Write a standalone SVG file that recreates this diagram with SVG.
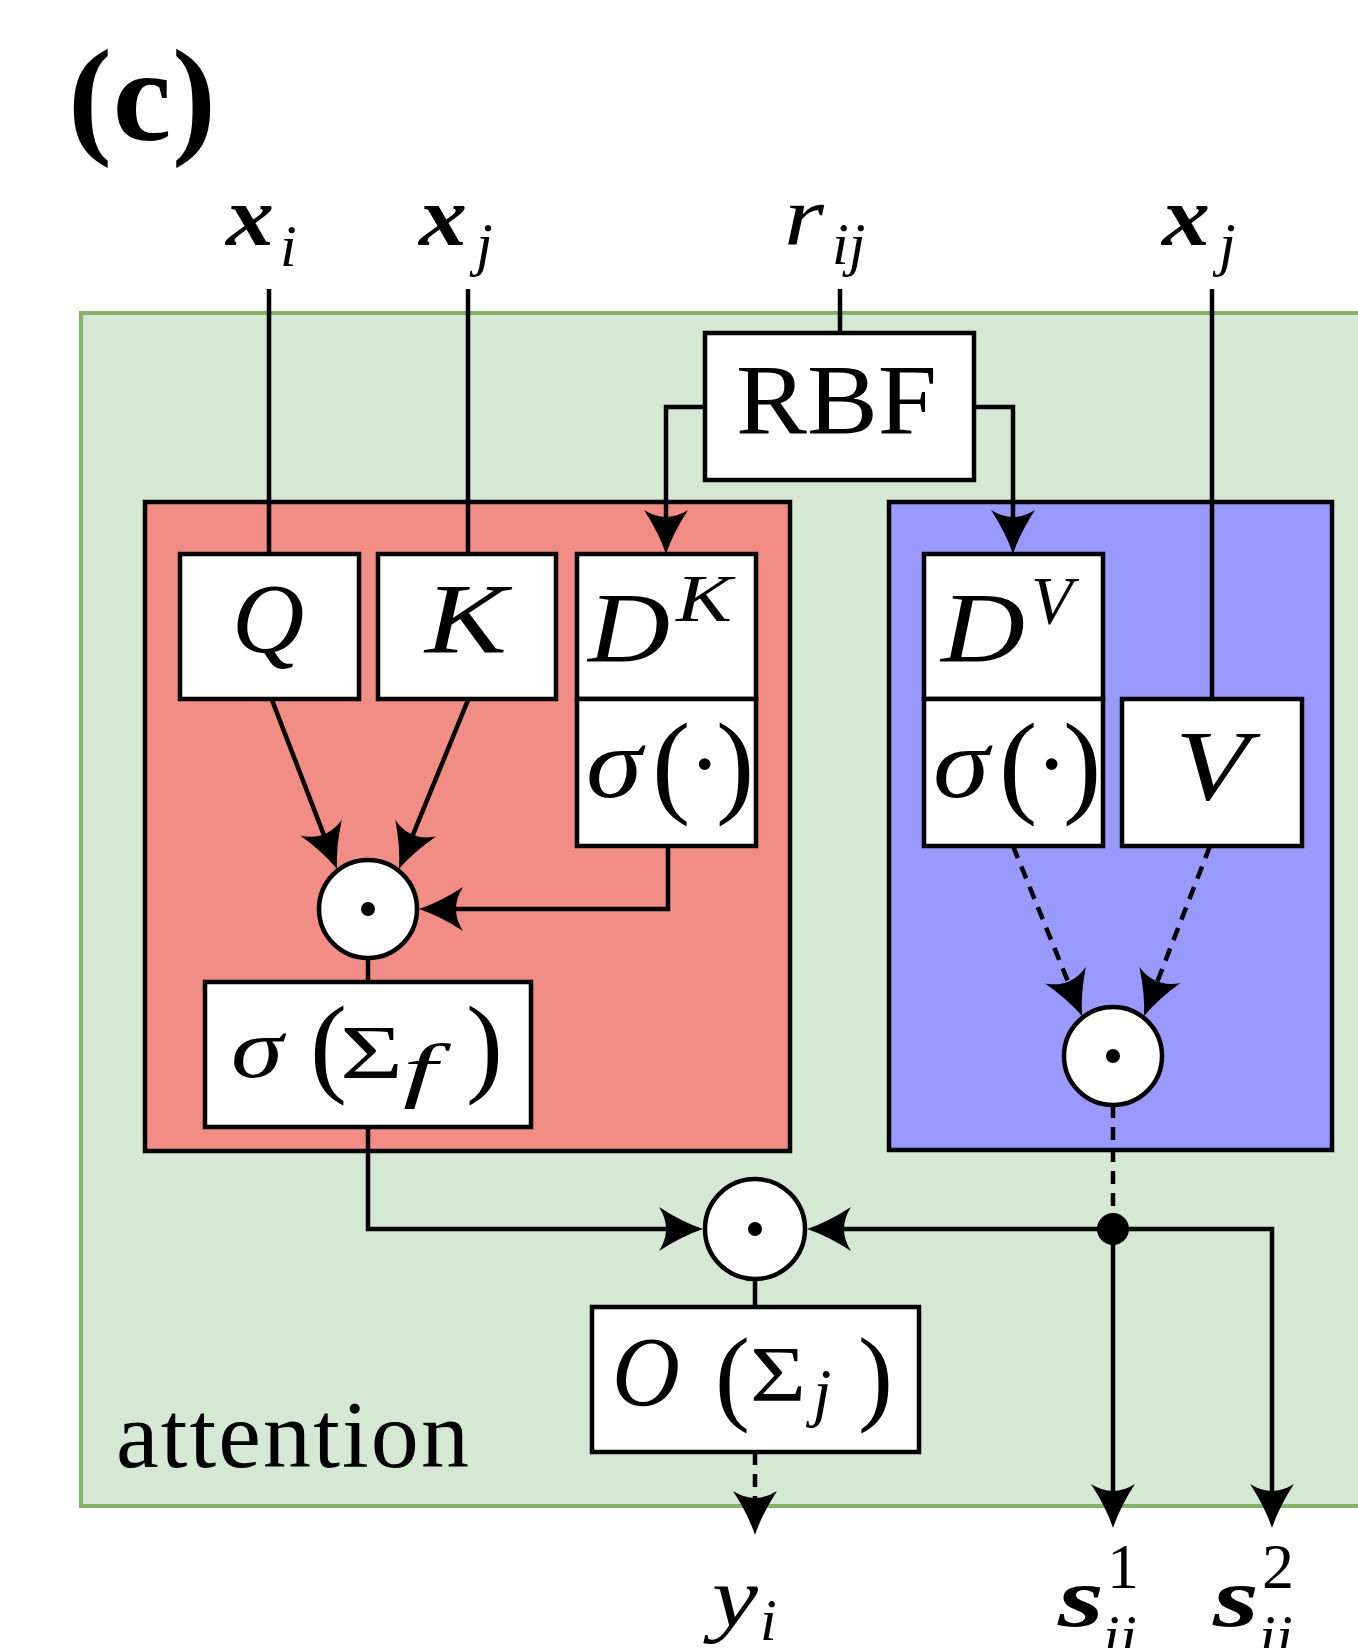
<svg xmlns="http://www.w3.org/2000/svg" width="1358" height="1648" viewBox="0 0 1358 1648">
<style>
text{font-family:"Liberation Serif","Times New Roman",serif;fill:#000}
.it{font-style:italic}
.bi{font-style:italic;font-weight:bold}
.up{font-style:normal}
.box{fill:#fff;stroke:#000;stroke-width:4.5}
.op{fill:#fff;stroke:#000;stroke-width:4.5}
.ln{fill:none;stroke:#000;stroke-width:4.5}
.ds{stroke-dasharray:13 9}
.ar{marker-end:url(#ah)}
</style>
<defs>
<marker id="ah" viewBox="-46 -24 48 48" refX="-8" refY="0" markerWidth="48" markerHeight="48" markerUnits="userSpaceOnUse" orient="auto">
<path d="M0,0 Q-21,-7 -44,-22 Q-30,0 -44,22 Q-21,7 0,0 Z" fill="#000"/>
</marker>
</defs>
<rect width="1358" height="1648" fill="#fff"/>
<text id="panel-label" x="68" y="140" font-size="132" font-weight="bold" textLength="148">(c)</text>

<g id="attention">
<rect x="81" y="313" width="1300" height="1193" fill="#d5e8d4" stroke="#82b366" stroke-width="4"/>
<text x="116" y="1467" font-size="96" textLength="353">attention</text>
</g>
<g id="key-branch"><rect x="145" y="502" width="645" height="649" fill="#f28d86" stroke="#000" stroke-width="4.5"/></g>
<g id="value-branch"><rect x="889" y="502" width="443" height="648" fill="#9999ff" stroke="#000" stroke-width="4.5"/></g>

<g id="inputs">
<text font-size="84"><tspan class="bi" x="226" y="245" textLength="48" lengthAdjust="spacingAndGlyphs">x</tspan><tspan class="it" x="280" y="266" font-size="60">i</tspan></text>
<text font-size="84"><tspan class="bi" x="419" y="245" textLength="48" lengthAdjust="spacingAndGlyphs">x</tspan><tspan class="it" x="476" y="264" font-size="60">j</tspan></text>
<text font-size="84"><tspan class="it" x="784" y="245" textLength="40" lengthAdjust="spacingAndGlyphs">r</tspan><tspan class="it" x="832" y="264" font-size="60">ij</tspan></text>
<text font-size="84"><tspan class="bi" x="1162" y="245" textLength="48" lengthAdjust="spacingAndGlyphs">x</tspan><tspan class="it" x="1219" y="264" font-size="60">j</tspan></text>
</g>

<g id="connectors">
<path class="ln" d="M269,289 V554"/>
<path class="ln" d="M468,289 V554"/>
<path class="ln" d="M840,289 V333"/>
<path class="ln ar" d="M705,407 H666 V546"/>
<path class="ln ar" d="M974,407 H1013 V546"/>
<path class="ln" d="M1212,289 V699"/>
<path class="ln ar" d="M272,700 L334.1,861.5"/>
<path class="ln ar" d="M468,700 L402,861.6"/>
<path class="ln ar" d="M668,846 V909 H427"/>
<path class="ln" d="M368,958 V982"/>
<path class="ln ar" d="M368,1127 V1229 H695"/>
<path class="ln ds ar" d="M1013,846 L1079,1008.6"/>
<path class="ln ds ar" d="M1210,846 L1146.9,1008.5"/>
<path class="ln ds" d="M1113,1105 V1229"/>
<path class="ln ar" d="M1113,1229 H815"/>
<path class="ln ar" d="M1113,1229 V1520"/>
<path class="ln ar" d="M1113,1229 H1272 V1520"/>
<path class="ln" d="M755,1279 V1307"/>
<path class="ln ds ar" d="M755,1452 V1527"/>
<circle cx="1113" cy="1229" r="16" fill="#000"/>
</g>

<g id="rbf">
<rect class="box" x="705" y="333" width="269" height="147"/>
<text x="736" y="433" font-size="100" textLength="201" lengthAdjust="spacingAndGlyphs">RBF</text>
</g>
<g id="Q">
<rect class="box" x="180" y="554" width="179" height="145"/>
<text class="it" x="268" y="652" font-size="100" text-anchor="middle">Q</text>
</g>
<g id="K">
<rect class="box" x="378" y="554" width="178" height="145"/>
<text class="it" x="466" y="652" font-size="100" text-anchor="middle" textLength="82" lengthAdjust="spacingAndGlyphs">K</text>
</g>
<g id="DK">
<rect class="box" x="577" y="554" width="179" height="145"/>
<text class="it" font-size="100"><tspan x="588" y="661" textLength="82" lengthAdjust="spacingAndGlyphs">D</tspan><tspan x="676" y="621" font-size="68" textLength="56" lengthAdjust="spacingAndGlyphs">K</tspan></text>
</g>
<g id="sigmaK">
<rect class="box" x="577" y="699" width="179" height="147"/>
<text font-size="100"><tspan class="it" x="586" y="797" textLength="56" lengthAdjust="spacingAndGlyphs">σ</tspan><tspan x="652" y="802" font-size="115">(</tspan><tspan x="688" y="797">·</tspan><tspan x="716" y="802" font-size="115">)</tspan></text>
</g>
<g id="odotK">
<circle class="op" cx="368" cy="909" r="49"/>
<circle cx="368" cy="909" r="7" fill="#000"/>
</g>
<g id="sigmaSumF">
<rect class="box" x="205" y="982" width="326" height="145"/>
<text font-size="84"><tspan class="it" x="231" y="1077" textLength="52" lengthAdjust="spacingAndGlyphs">σ</tspan><tspan x="310" y="1082" font-size="111">(</tspan><tspan x="340" y="1078" font-size="76" textLength="63" lengthAdjust="spacingAndGlyphs">Σ</tspan><tspan class="it" x="403" y="1094" font-size="72" textLength="34" lengthAdjust="spacingAndGlyphs">f</tspan><tspan x="466" y="1082" font-size="111">)</tspan></text>
</g>
<g id="DV">
<rect class="box" x="924" y="554" width="179" height="145"/>
<text class="it" font-size="100"><tspan x="941" y="661" textLength="84" lengthAdjust="spacingAndGlyphs">D</tspan><tspan x="1031" y="623" font-size="68">V</tspan></text>
</g>
<g id="sigmaV">
<rect class="box" x="924" y="699" width="179" height="147"/>
<text font-size="100"><tspan class="it" x="933" y="797" textLength="56" lengthAdjust="spacingAndGlyphs">σ</tspan><tspan x="999" y="802" font-size="115">(</tspan><tspan x="1035" y="797">·</tspan><tspan x="1063" y="802" font-size="115">)</tspan></text>
</g>
<g id="V">
<rect class="box" x="1122" y="699" width="180" height="147"/>
<text class="it" x="1212" y="799" font-size="100" text-anchor="middle" textLength="74" lengthAdjust="spacingAndGlyphs">V</text>
</g>
<g id="odotV">
<circle class="op" cx="1113" cy="1056" r="49"/>
<circle cx="1113" cy="1056" r="7" fill="#000"/>
</g>
<g id="odotOut">
<circle class="op" cx="755" cy="1229" r="50"/>
<circle cx="755" cy="1229" r="7" fill="#000"/>
</g>
<g id="Osum">
<rect class="box" x="592" y="1307" width="327" height="145"/>
<text font-size="100"><tspan class="it" x="612" y="1405" textLength="68" lengthAdjust="spacingAndGlyphs">O</tspan><tspan x="715" y="1411" font-size="105">(</tspan><tspan x="750" y="1400" font-size="78" textLength="56" lengthAdjust="spacingAndGlyphs">Σ</tspan><tspan class="it" x="813" y="1414" font-size="66">j</tspan><tspan x="858" y="1411" font-size="105">)</tspan></text>
</g>

<g id="outputs">
<text font-size="84"><tspan class="it" x="712" y="1626" textLength="46" lengthAdjust="spacingAndGlyphs">y</tspan><tspan class="it" x="760" y="1640" font-size="60">i</tspan></text>
<text font-size="84"><tspan class="bi" x="1058" y="1626" textLength="46" lengthAdjust="spacingAndGlyphs">s</tspan><tspan x="1107" y="1588" font-size="64">1</tspan><tspan class="it" x="1103" y="1656" font-size="60">ij</tspan></text>
<text font-size="84"><tspan class="bi" x="1213" y="1626" textLength="46" lengthAdjust="spacingAndGlyphs">s</tspan><tspan x="1262" y="1588" font-size="64">2</tspan><tspan class="it" x="1259" y="1656" font-size="60">ij</tspan></text>
</g>
</svg>
